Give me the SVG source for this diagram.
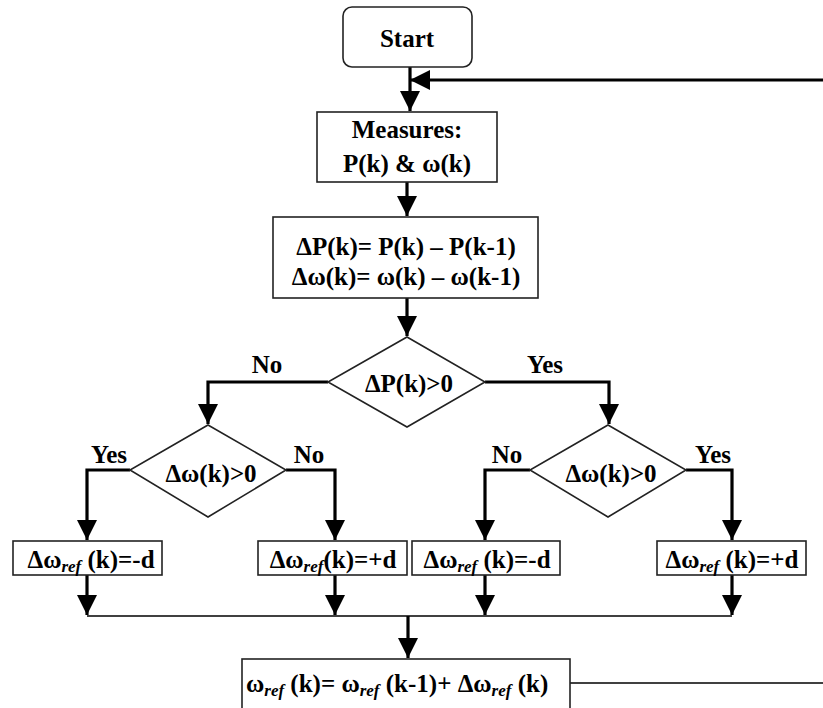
<svg xmlns="http://www.w3.org/2000/svg" width="823" height="708" viewBox="0 0 823 708">
<style>
  text { font-family: "Liberation Serif", "Times New Roman", serif; font-weight: bold; font-size: 25px; fill: #000; }
  .sub { font-size: 17px; font-style: italic; }
  .box { fill: #fff; stroke: #222; stroke-width: 1.6; }
  .thick { fill: none; stroke: #000; stroke-width: 3.2; }
  .thin { fill: none; stroke: #000; stroke-width: 1.6; }
</style>
<defs>
  <marker id="ah" viewBox="0 0 20 20" markerWidth="20" markerHeight="20" refX="20" refY="10" orient="auto" markerUnits="userSpaceOnUse">
    <path d="M0,0 L20,10 L0,20 Z" fill="#000"/>
  </marker>
</defs>
<rect width="823" height="708" fill="#fff"/>

<g id="connectors">
  <path class="thick" d="M410,67 V111" marker-end="url(#ah)"/>
  <path class="thick" d="M823,80 H410" marker-end="url(#ah)"/>
  <path class="thick" d="M407,182 V216" marker-end="url(#ah)"/>
  <path class="thick" d="M407,298 V336" marker-end="url(#ah)"/>
  <path class="thick" d="M328,382 H208 V424" marker-end="url(#ah)"/>
  <path class="thick" d="M485,382 H609 V424" marker-end="url(#ah)"/>
  <path class="thick" d="M130,470 H87 V540" marker-end="url(#ah)"/>
  <path class="thick" d="M286,470 H335 V540" marker-end="url(#ah)"/>
  <path class="thick" d="M530,470 H485 V540" marker-end="url(#ah)"/>
  <path class="thick" d="M686,470 H732 V540" marker-end="url(#ah)"/>
  <path class="thick" d="M87,575 V615" marker-end="url(#ah)"/>
  <path class="thick" d="M335,575 V615" marker-end="url(#ah)"/>
  <path class="thick" d="M485,575 V615" marker-end="url(#ah)"/>
  <path class="thick" d="M732,575 V615" marker-end="url(#ah)"/>
  <path class="thin" d="M87,616 H732"/>
  <path class="thick" d="M408,616 V658" marker-end="url(#ah)"/>
  <path class="thin" d="M570,683 H823"/>
  <text x="267" y="373" text-anchor="middle">No</text>
  <text x="545" y="373" text-anchor="middle">Yes</text>
  <text x="109" y="463" text-anchor="middle">Yes</text>
  <text x="309" y="463" text-anchor="middle">No</text>
  <text x="507" y="463" text-anchor="middle">No</text>
  <text x="713" y="463" text-anchor="middle">Yes</text>
</g>

<g id="start">
  <rect class="box" x="343" y="7" width="129" height="60" rx="9"/>
  <text x="407" y="47" text-anchor="middle">Start</text>
</g>

<g id="measures">
  <rect class="box" x="317" y="112" width="180" height="70"/>
  <text x="407" y="138" text-anchor="middle">Measures:</text>
  <text x="407" y="172" text-anchor="middle">P(k) &amp; ω(k)</text>
</g>

<g id="delta">
  <rect class="box" x="273" y="217" width="265" height="81"/>
  <text x="406" y="255" text-anchor="middle">ΔP(k)= P(k) – P(k-1)</text>
  <text x="406" y="285" text-anchor="middle">Δω(k)= ω(k) – ω(k-1)</text>
</g>

<g id="dP">
  <polygon class="box" points="407,337 485,382 407,427 328,382"/>
  <text x="409" y="392" text-anchor="middle">ΔP(k)&gt;0</text>
</g>

<g id="dwLeft">
  <polygon class="box" points="208,425 286,470 208,517 130,470"/>
  <text x="211" y="482" text-anchor="middle">Δω(k)&gt;0</text>
</g>

<g id="dwRight">
  <polygon class="box" points="608,425 686,470 608,517 530,470"/>
  <text x="611" y="482" text-anchor="middle">Δω(k)&gt;0</text>
</g>

<g id="b1">
  <rect class="box" x="13" y="541" width="149" height="34"/>
  <text x="91" y="568" text-anchor="middle">Δω<tspan class="sub" dy="4">ref</tspan><tspan dy="-4"> (k)=-d</tspan></text>
</g>

<g id="b2">
  <rect class="box" x="258" y="541" width="149" height="34"/>
  <text x="333" y="568" text-anchor="middle">Δω<tspan class="sub" dy="4">ref</tspan><tspan dy="-4">(k)=+d</tspan></text>
</g>

<g id="b3">
  <rect class="box" x="412" y="541" width="148" height="34"/>
  <text x="487" y="568" text-anchor="middle">Δω<tspan class="sub" dy="4">ref</tspan><tspan dy="-4"> (k)=-d</tspan></text>
</g>

<g id="b4">
  <rect class="box" x="657" y="541" width="149" height="34"/>
  <text x="732" y="568" text-anchor="middle">Δω<tspan class="sub" dy="4">ref</tspan><tspan dy="-4"> (k)=+d</tspan></text>
</g>

<g id="update">
  <rect class="box" x="242" y="659" width="328" height="60"/>
  <text x="246" y="692">ω<tspan class="sub" dy="4">ref</tspan><tspan dy="-4"> (k)= ω</tspan><tspan class="sub" dy="4">ref</tspan><tspan dy="-4"> (k-1)+ Δω</tspan><tspan class="sub" dy="4">ref</tspan><tspan dy="-4"> (k)</tspan></text>
</g>
</svg>
